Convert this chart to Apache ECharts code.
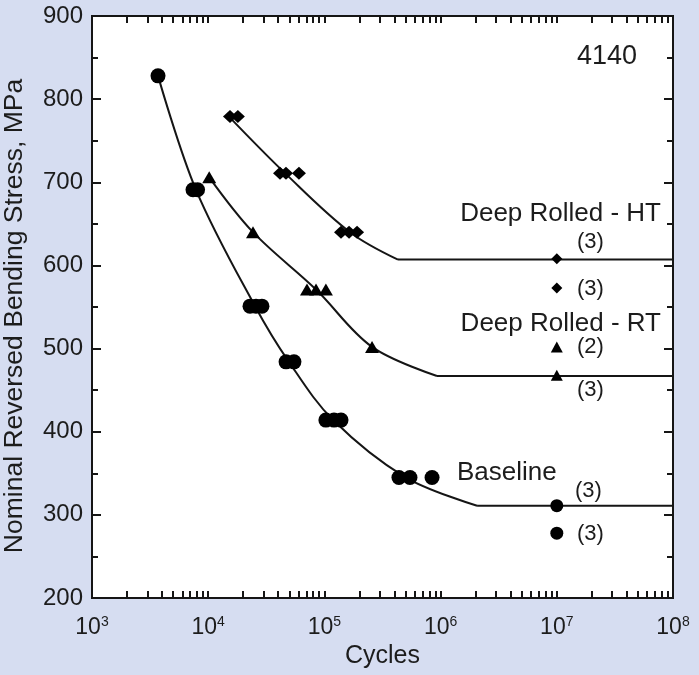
<!DOCTYPE html>
<html><head><meta charset="utf-8">
<script src="https://cdn.jsdelivr.net/npm/echarts@6/dist/echarts.min.js"></script>
<style>html,body{margin:0;padding:0;background:#d6ddf1;}#c{width:699px;height:675px;}</style>
</head><body><div id="c"></div>
<script>
// ---- data ----
const baselineCycles = [3700, 7400, 8100, 22900, 25800, 29000, 46800, 54700, 103000, 121000, 139000, 438000, 545000, 844000];
const baselineStress = [828, 691, 691, 551, 551, 551, 484, 484, 414, 414, 414, 345, 345, 345];
const baselineRunoutCycles = [1e7, 1e7];
const baselineRunoutStress = [311, 278];
const baselineCurveCycles = [3700, 7850, 25300, 49500, 119000, 494000, 2060000];
const baselineCurveStress = [828, 691, 551, 484, 414, 345.5, 311];
const baselineFlatCycles = [2060000, 1e8];
const baselineFlatStress = [311, 311];

const htCycles = [15400, 18000, 41500, 46700, 60400, 139000, 163000, 191000];
const htStress = [779, 779, 711, 711, 711, 640, 640, 640];
const htRunoutCycles = [1e7, 1e7];
const htRunoutStress = [608, 573];
const htCurveCycles = [15100, 45800, 166000, 430000];
const htCurveStress = [779, 711, 640, 607];
const htFlatCycles = [430000, 1e8];
const htFlatStress = [607, 607];

const rtCycles = [10200, 24300, 70800, 84700, 103000, 257000];
const rtStress = [706, 640, 571, 571, 571, 502];
const rtRunoutCycles = [1e7, 1e7];
const rtRunoutStress = [502, 468];
const rtCurveCycles = [10200, 24300, 84700, 257000, 931000];
const rtCurveStress = [706, 640, 571, 502, 467];
const rtFlatCycles = [931000, 1e8];
const rtFlatStress = [467, 467];

const X_MIN = 1e3, X_MAX = 1e8;
const Y_MIN = 200, Y_MAX = 900, Y_STEP = 100;
const xMajorTicks = [1e3, 1e4, 1e5, 1e6, 1e7, 1e8];
const xMinorTicks = [2e3, 3e3, 4e3, 5e3, 6e3, 7e3, 8e3, 9e3,
  2e4, 3e4, 4e4, 5e4, 6e4, 7e4, 8e4, 9e4,
  2e5, 3e5, 4e5, 5e5, 6e5, 7e5, 8e5, 9e5,
  2e6, 3e6, 4e6, 5e6, 6e6, 7e6, 8e6, 9e6,
  2e7, 3e7, 4e7, 5e7, 6e7, 7e7, 8e7, 9e7];

const xTitle = 'Cycles';
const yTitle = 'Nominal Reversed Bending Stress, MPa';
// ----------------------------------------

const FONT = "'Liberation Sans', Arial, Helvetica, sans-serif";
const INK = '#151515';
const TXT = '#1c1c1c';
const zip = (a, b) => a.map((v, i) => [v, b[i]]);
const allXTicks = xMajorTicks.concat(xMinorTicks).sort((a, b) => a - b);

const chart = echarts.init(document.getElementById('c'), null, {renderer: 'canvas'});

function lineSeries(xs, ys, smooth) {
  return {type: 'line', data: zip(xs, ys), smooth: smooth, symbol: 'none', silent: true,
    lineStyle: {color: INK, width: 2}, z: 2, clip: false};
}
function scatterSeries(xs, ys, symbol, size) {
  return {type: 'scatter', data: zip(xs, ys), symbol: symbol, symbolSize: size, silent: true,
    itemStyle: {color: '#000', opacity: 1}, z: 3, clip: false};
}

const axisLabelX = {
  color: TXT, fontFamily: FONT, margin: 17,
  customValues: xMajorTicks,
  formatter: v => '{b|10}{s|' + Math.round(Math.log10(v)) + '}',
  rich: {b: {fontSize: 23, fontFamily: FONT, color: TXT},
         s: {fontSize: 14, fontFamily: FONT, color: TXT, verticalAlign: 'top', padding: [0,0,11,0]}}
};
const xTick = {show: true, inside: true, length: 7, customValues: allXTicks, lineStyle: {color: INK, width: 2}};

const txt = (text, x, y, size, align, rot) => ({
  type: 'text', x: x, y: y, z: 100, silent: true, rotation: rot || 0,
  style: {text: text, fill: TXT, font: size + 'px ' + FONT, textAlign: align || 'left', textVerticalAlign: 'middle'}
});

chart.setOption({
  animation: false,
  backgroundColor: '#d6ddf1',
  grid: {left: 92, right: 26, top: 16, bottom: 77, show: true, backgroundColor: '#ffffff', borderColor: INK, borderWidth: 2},
  xAxis: [
    {type: 'log', logBase: 10, min: X_MIN, max: X_MAX, position: 'bottom',
      name: xTitle, nameLocation: 'middle', nameGap: 45,
      nameTextStyle: {fontSize: 25, fontFamily: FONT, color: TXT},
      axisLine: {show: true, lineStyle: {color: INK, width: 2}},
      axisTick: xTick,
      splitLine: {show: false}, axisLabel: axisLabelX},
    {type: 'log', logBase: 10, min: X_MIN, max: X_MAX, position: 'top',
      axisLine: {show: true, lineStyle: {color: INK, width: 2}},
      axisTick: xTick,
      splitLine: {show: false}, axisLabel: {show: false}}
  ],
  yAxis: [
    {type: 'value', min: Y_MIN, max: Y_MAX, interval: Y_STEP, position: 'left',
      axisLine: {show: true, lineStyle: {color: INK, width: 2}},
      axisTick: {show: true, inside: true, length: 9, lineStyle: {color: INK, width: 2}},
      minorTick: {show: true, splitNumber: 2, length: 6, lineStyle: {color: INK, width: 2}},
      splitLine: {show: false},
      axisLabel: {fontSize: 24, fontFamily: FONT, color: TXT, margin: 9}},
    {type: 'value', min: Y_MIN, max: Y_MAX, interval: Y_STEP, position: 'right',
      axisLine: {show: true, lineStyle: {color: INK, width: 2}},
      axisTick: {show: true, inside: true, length: 9, lineStyle: {color: INK, width: 2}},
      minorTick: {show: true, splitNumber: 2, length: 6, lineStyle: {color: INK, width: 2}},
      splitLine: {show: false}, axisLabel: {show: false}}
  ],
  series: [
    lineSeries(baselineCurveCycles, baselineCurveStress, 0.35),
    lineSeries(baselineFlatCycles, baselineFlatStress, false),
    lineSeries(htCurveCycles, htCurveStress, 0.35),
    lineSeries(htFlatCycles, htFlatStress, false),
    lineSeries(rtCurveCycles, rtCurveStress, 0.35),
    lineSeries(rtFlatCycles, rtFlatStress, false),
    scatterSeries(baselineCycles, baselineStress, 'circle', 15),
    scatterSeries(baselineRunoutCycles, baselineRunoutStress, 'circle', 13),
    scatterSeries(htCycles, htStress, 'diamond', [14, 13]),
    scatterSeries(htRunoutCycles, htRunoutStress, 'diamond', [11, 11]),
    scatterSeries(rtCycles, rtStress, 'triangle', [14, 12]),
    scatterSeries(rtRunoutCycles, rtRunoutStress, 'triangle', [12, 11])
  ],
  graphic: [
    txt(yTitle, 15, 316, 26.5, 'center', Math.PI / 2),
    txt('4140', 637, 57, 27, 'right'),
    txt('Deep Rolled - HT', 661, 214, 26, 'right'),
    txt('(3)', 577, 242, 22),
    txt('(3)', 577, 289, 22),
    txt('Deep Rolled - RT', 661, 324, 26, 'right'),
    txt('(2)', 577, 347, 22),
    txt('(3)', 577, 390, 22),
    txt('Baseline', 457, 473, 26),
    txt('(3)', 575, 491, 22),
    txt('(3)', 577, 534, 22)
  ]
});
</script></body></html>
